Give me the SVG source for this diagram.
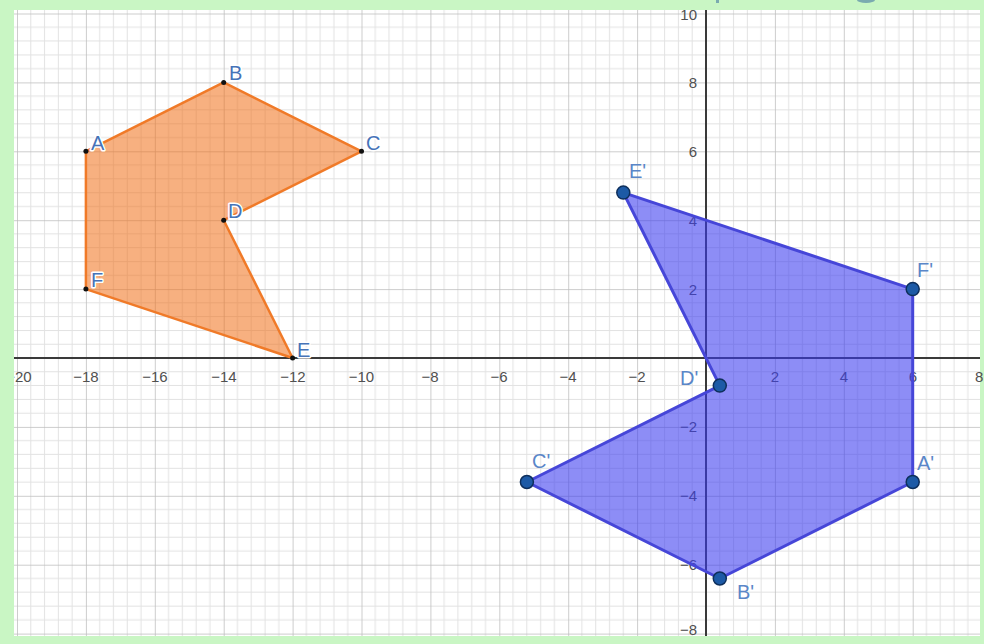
<svg xmlns="http://www.w3.org/2000/svg" width="984" height="644" viewBox="0 0 984 644">
  <style>
    .tick { font-family: "Liberation Sans", Arial, sans-serif; font-size: 15px; fill: #505050; }
    .lbl { font-family: "Liberation Sans", Arial, sans-serif; font-size: 20px; fill: #4673b8; stroke: #ffffff; stroke-width: 3px; paint-order: stroke; stroke-linejoin: round; }
    .lblp { font-family: "Liberation Sans", Arial, sans-serif; font-size: 20px; fill: #5a86c8; }
    .axis { stroke: #3a3a3a; stroke-width: 2; fill: none; }
    .pt { fill: #111111; }
    .ptp { fill: #1d5aa6; stroke: #0e2f5c; stroke-width: 1.5; }
  </style>
  <defs>
    <pattern id="grid" patternUnits="userSpaceOnUse" x="706" y="358" width="68.9" height="68.9">
      <path d="M13.78 0V68.9M27.56 0V68.9M41.34 0V68.9M55.12 0V68.9M0 13.78H68.9M0 27.56H68.9M0 41.34H68.9M0 55.12H68.9" stroke="#e2e2e2" stroke-width="1" fill="none"/>
      <path d="M0 0V68.9M0 0H68.9" stroke="#bdbdbd" stroke-width="1.5" fill="none"/>
    </pattern>
    <clipPath id="plot">
      <rect x="14" y="10" width="966" height="626"/>
    </clipPath>
  </defs>

  <rect x="0" y="0" width="984" height="644" fill="#c9f6c4"/>
  <rect x="14" y="10" width="966" height="626" fill="#ffffff"/>
  <ellipse cx="866" cy="0" rx="9" ry="3" fill="#7aaab0"/>
  <rect x="716" y="0" width="3" height="3" fill="#7aaab0"/>

  <g clip-path="url(#plot)">
    <rect x="14" y="10" width="966" height="626" fill="url(#grid)"/>

    <g id="axes">
      <path class="axis" d="M14 358H980M706 10V636"/>
    </g>

    <g id="x-ticks" class="tick" text-anchor="middle">
      <text x="19" y="382">−20</text>
      <text x="86" y="382">−18</text>
      <text x="155" y="382">−16</text>
      <text x="224" y="382">−14</text>
      <text x="293" y="382">−12</text>
      <text x="361.5" y="382">−10</text>
      <text x="430" y="382">−8</text>
      <text x="499" y="382">−6</text>
      <text x="568" y="382">−4</text>
      <text x="637" y="382">−2</text>
      <text x="775" y="382">2</text>
      <text x="844" y="382">4</text>
      <text x="913" y="382">6</text>
    </g>
    <g id="y-ticks" class="tick" text-anchor="end">
      <text x="697" y="20">10</text>
      <text x="697" y="88">8</text>
      <text x="697" y="157">6</text>
      <text x="697" y="226">4</text>
      <text x="697" y="295">2</text>
      <text x="697" y="432">−2</text>
      <text x="697" y="501">−4</text>
      <text x="697" y="570">−6</text>
      <text x="697" y="635">−8</text>
    </g>

    <g id="polygon-ABCDEF">
      <polygon points="85.9,151.3 223.7,82.4 361.5,151.3 223.7,220.2 292.6,358 85.9,289.1" fill="#f07018" fill-opacity="0.55" stroke="#f07a28" stroke-width="2.5" stroke-linejoin="round"/>
    </g>

    <g id="polygon-prime">
      <polygon points="912.7,482 719.8,578.5 526.9,482 719.8,385.6 623.3,192.6 912.7,289.1" fill="#3a3af0" fill-opacity="0.58" stroke="#4646d8" stroke-width="3" stroke-linejoin="round"/>
    </g>

    <g id="A"><circle class="pt" cx="85.9" cy="151.3" r="2.5"/><text class="lbl" x="91" y="150">A</text></g>
    <g id="B"><circle class="pt" cx="223.7" cy="82.4" r="2.5"/><text class="lbl" x="229" y="80">B</text></g>
    <g id="C"><circle class="pt" cx="361.5" cy="151.3" r="2.5"/><text class="lbl" x="366" y="150">C</text></g>
    <g id="D"><circle class="pt" cx="223.7" cy="220.2" r="2.5"/><text class="lbl" x="228" y="218">D</text></g>
    <g id="E"><circle class="pt" cx="292.6" cy="358" r="2.5"/><text class="lbl" x="297" y="357">E</text></g>
    <g id="F"><circle class="pt" cx="85.9" cy="289.1" r="2.5"/><text class="lbl" x="91" y="287">F</text></g>

    <g id="A-prime"><circle class="ptp" cx="912.7" cy="482" r="6.5"/><text class="lblp" x="917" y="470">A'</text></g>
    <g id="B-prime"><circle class="ptp" cx="719.8" cy="578.5" r="6.5"/><text class="lblp" x="737" y="599">B'</text></g>
    <g id="C-prime"><circle class="ptp" cx="526.9" cy="482" r="6.5"/><text class="lblp" x="532" y="468">C'</text></g>
    <g id="D-prime"><circle class="ptp" cx="719.8" cy="385.6" r="6.5"/><text class="lblp" x="680" y="385">D'</text></g>
    <g id="E-prime"><circle class="ptp" cx="623.3" cy="192.6" r="6.5"/><text class="lblp" x="629" y="178">E'</text></g>
    <g id="F-prime"><circle class="ptp" cx="912.7" cy="289.1" r="6.5"/><text class="lblp" x="917" y="277">F'</text></g>
  </g>
  <text class="tick" x="975" y="382">8</text>
</svg>
